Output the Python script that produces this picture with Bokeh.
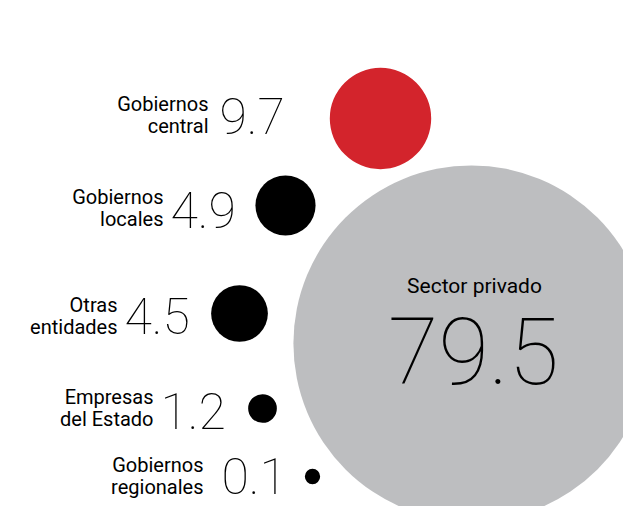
from bokeh.plotting import figure
from bokeh.models import Range1d, ColumnDataSource, LinearInterpolator
from bokeh.transform import transform
from bokeh.core.properties import value
from bokeh.embed import file_html
from bokeh.resources import INLINE

# ---- data ----
labels_line1 = ["Gobiernos", "Gobiernos", "Otras", "Empresas", "Gobiernos"]
labels_line2 = ["central", "locales", "entidades", "del Estado", "regionales"]
values = [9.7, 4.9, 4.5, 1.2, 0.1]
colors = ["#d3242c", "#000000", "#000000", "#000000", "#000000"]
value_text = ["9.7", "4.9", "4.5", "1.2", "0.1"]

main_label = "Sector privado"
main_value = 79.5
main_text = "79.5"
main_color = "#bdbec0"

# ---- layout (picture pixel coordinates) ----
W, H = 623, 506
circle_x = [380, 285, 239, 262, 312]
circle_y = [118, 205, 313, 408, 476]
label_right = [208, 163, 117, 153, 203]
label_base = [111, 204, 312, 404, 472]
line_gap = 22
num_left = [219, 170, 124, 160, 221]
num_base = [134, 228, 334, 429, 494]
main_cx, main_cy = 471, 343
main_label_pos = (474, 293)
main_num_pos = (473, 385)

LAB_SIZE, NUM_SIZE, MAIN_LAB_SIZE, MAIN_NUM_SIZE = 20, 50, 21, 92
SHIFT = 0.38  # em correction from renderer baseline to glyph baseline


def sh(y, s):
    return y - SHIFT * s


size_scale = LinearInterpolator(x=[0, 1, 5, 10, 80], y=[14, 27, 61, 104, 358])

p = figure(width=W, height=H, output_backend="svg", toolbar_location=None,
           x_range=Range1d(0, W), y_range=Range1d(H, 0), min_border=0)
p.axis.visible = False
p.grid.visible = False
p.outline_line_color = None
p.background_fill_color = "white"
p.border_fill_color = "white"

main_src = ColumnDataSource(dict(x=[main_cx], y=[main_cy], v=[main_value], c=[main_color]))
p.scatter("x", "y", source=main_src, size=transform("v", size_scale),
          fill_color="c", line_color=None)

src = ColumnDataSource(dict(
    x=circle_x, y=circle_y, v=values, c=colors,
    l1=labels_line1, l2=labels_line2, t=value_text,
    lx=label_right,
    ly1=[sh(b, LAB_SIZE) for b in label_base],
    ly2=[sh(b + line_gap, LAB_SIZE) for b in label_base],
    nx=num_left, ny=[sh(b, NUM_SIZE) for b in num_base],
))
p.scatter("x", "y", source=src, size=transform("v", size_scale),
          fill_color="c", line_color=None)

lab_font = value("Roboto")
num_font = value("Roboto Thin")

p.text("lx", "ly1", text="l1", source=src, text_align="right", text_baseline="alphabetic",
       text_font=lab_font, text_font_size=f"{LAB_SIZE}px", text_color="black")
p.text("lx", "ly2", text="l2", source=src, text_align="right", text_baseline="alphabetic",
       text_font=lab_font, text_font_size=f"{LAB_SIZE}px", text_color="black")
p.text("nx", "ny", text="t", source=src, text_align="left", text_baseline="alphabetic",
       text_font=num_font, text_font_size=f"{NUM_SIZE}px", text_color="black")

p.text(x=[main_label_pos[0]], y=[sh(main_label_pos[1], MAIN_LAB_SIZE)], text=[main_label],
       text_align="center", text_baseline="alphabetic",
       text_font=lab_font, text_font_size=f"{MAIN_LAB_SIZE}px", text_color="black")
p.text(x=[main_num_pos[0]], y=[sh(main_num_pos[1], MAIN_NUM_SIZE)], text=[main_text],
       text_align="center", text_baseline="alphabetic",
       text_font=num_font, text_font_size=f"{MAIN_NUM_SIZE}px", text_color="black")

open("out.html", "w").write(file_html(p, INLINE))
